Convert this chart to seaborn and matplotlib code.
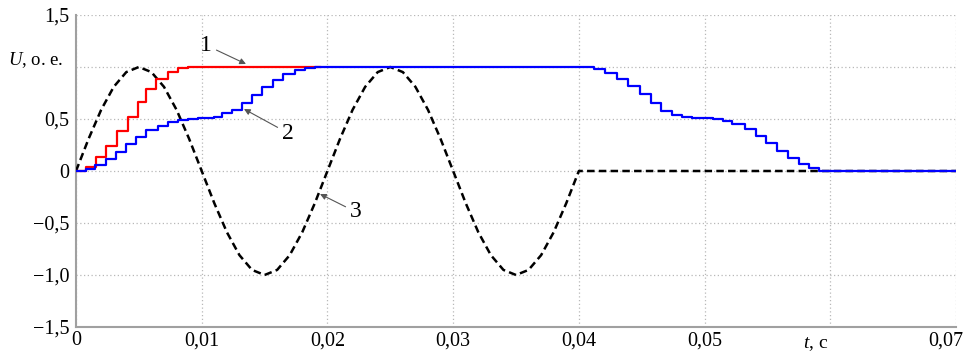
import numpy as np
import pandas as pd
import matplotlib
matplotlib.use("Agg")
import matplotlib.pyplot as plt
import matplotlib.transforms as mtransforms
import seaborn as sns

# ---------------- data ----------------
# curve 1 (red)
t_red = [0.0, 0.0008, 0.0016, 0.0024, 0.0033, 0.0041, 0.0049, 0.0056,
         0.0064, 0.0073, 0.0081, 0.0089, 0.0195]
u_red = [0.0, 0.035, 0.13, 0.24, 0.385, 0.52, 0.66, 0.785,
         0.88, 0.955, 0.99, 1.0, 1.0]

# curve 2 (blue)
t_blue = [0.0, 0.0008, 0.0015, 0.0024, 0.0032, 0.0040, 0.0048, 0.0056,
          0.0065, 0.0073, 0.0081, 0.0089, 0.0097, 0.0105, 0.0110,
          0.0116, 0.0124, 0.0132, 0.0140, 0.0148, 0.0157, 0.0165,
          0.0174, 0.0182, 0.0190,
          0.0406, 0.0412, 0.0421, 0.0430, 0.0439, 0.0449, 0.0457,
          0.0465, 0.0474, 0.0482, 0.0490, 0.0507, 0.0515, 0.0522,
          0.0532, 0.0541, 0.0549, 0.0558, 0.0566, 0.0575, 0.0583,
          0.0591, 0.0700]
u_blue = [0.0, 0.015, 0.06, 0.115, 0.18, 0.256, 0.33, 0.39,
          0.43, 0.468, 0.49, 0.50, 0.505, 0.51, 0.52,
          0.555, 0.59, 0.65, 0.73, 0.81, 0.875, 0.93,
          0.97, 0.993, 1.0,
          0.997, 0.98, 0.94, 0.885, 0.82, 0.737, 0.65,
          0.58, 0.54, 0.515, 0.505, 0.497, 0.48, 0.452,
          0.40, 0.34, 0.266, 0.195, 0.128, 0.07, 0.032,
          0.0, 0.0]

# curve 3 (black dashed)
t_black = [0.000, 0.001, 0.002, 0.003, 0.004, 0.005, 0.006, 0.007, 0.008,
           0.009, 0.010, 0.011, 0.012, 0.013, 0.014, 0.015, 0.016, 0.017,
           0.018, 0.019, 0.020, 0.021, 0.022, 0.023, 0.024, 0.025, 0.026,
           0.027, 0.028, 0.029, 0.030, 0.031, 0.032, 0.033, 0.034, 0.035,
           0.036, 0.037, 0.038, 0.039, 0.040, 0.070]
u_black = [0.0, 0.309, 0.588, 0.809, 0.951, 1.0, 0.951, 0.809, 0.588,
           0.309, 0.0, -0.309, -0.588, -0.809, -0.951, -1.0, -0.951, -0.809,
           -0.588, -0.309, 0.0, 0.309, 0.588, 0.809, 0.951, 1.0, 0.951,
           0.809, 0.588, 0.309, 0.0, -0.309, -0.588, -0.809, -0.951, -1.0,
           -0.951, -0.809, -0.588, -0.309, 0.0, 0.0]

x_ticks = [0.0, 0.01, 0.02, 0.03, 0.04, 0.05, 0.06, 0.07]
x_ticklabels = ["0", "0,01", "0,02", "0,03", "0,04", "0,05", "", "0,07"]
y_ticks = [-1.5, -1.0, -0.5, 0.0, 0.5, 1.0, 1.5]
y_ticklabels = ["\u22121,5", "\u22121,0", "\u22120,5", "0", "0,5", "", "1,5"]

# ---------------- style ----------------
sns.set_theme(style="white")
plt.rcParams["font.family"] = ["Liberation Serif", "DejaVu Serif"]
plt.rcParams["text.color"] = "black"
plt.rcParams["mathtext.fontset"] = "custom"
plt.rcParams["mathtext.rm"] = "Liberation Serif"
plt.rcParams["mathtext.it"] = "Liberation Serif:italic"

fig = plt.figure(figsize=(9.72, 3.53), dpi=100)
ax = fig.add_axes([76 / 972, 1 - 327 / 353, (956 - 76) / 972, (327 - 15) / 353])

df_black = pd.DataFrame({"t": t_black, "u": u_black})
df_red = pd.DataFrame({"t": t_red, "u": u_red})
df_blue = pd.DataFrame({"t": t_blue, "u": u_blue})

sns.lineplot(data=df_black, x="t", y="u", ax=ax, color="black", lw=1.8,
             linestyle=(0, (3.0, 1.7)), sort=False, estimator=None, zorder=3)
sns.lineplot(data=df_red, x="t", y="u", ax=ax, color="#ff0000", lw=1.6,
             drawstyle="steps-post", sort=False, estimator=None, zorder=4)
sns.lineplot(data=df_blue, x="t", y="u", ax=ax, color="#0000ff", lw=1.6,
             drawstyle="steps-post", sort=False, estimator=None, zorder=5)

ax.set_xlim(0, 0.07)
ax.set_ylim(-1.5, 1.5)
ax.set_xticks(x_ticks)
ax.set_xticklabels(x_ticklabels)
ax.set_yticks(y_ticks)
ax.set_yticklabels(y_ticklabels)
ax.set_xlabel("")
ax.set_ylabel("")

ax.grid(True, linestyle=(0, (1, 2)), color="#b8b8b8", lw=0.9)
for s in ["top", "right"]:
    ax.spines[s].set_visible(False)
for s in ["left", "bottom"]:
    ax.spines[s].set_color("#a0a0a0")
    ax.spines[s].set_linewidth(1.5)
ax.tick_params(axis="both", direction="in", length=5, width=1,
               color="#a0a0a0", labelsize=14.5, labelcolor="black", pad=3)
ax.tick_params(axis="y", pad=5)

# the last x label sits a little to the left of its tick, inside the figure
last = ax.get_xticklabels()[-1]
last.set_transform(last.get_transform() +
                   mtransforms.ScaledTranslation(-10 / 100, 0, fig.dpi_scale_trans))

# axis labels placed where the reference has them
fig.text(63 / 972, 1 - 60 / 353, "$U$, o. e.", ha="right", va="center",
         fontsize=13.5)
fig.text(816 / 972, 1 - 344 / 353, "$t$, c", ha="center", va="center",
         fontsize=14)

arrow = dict(arrowstyle="-|>", color="#555555", lw=0.8, mutation_scale=9,
             shrinkA=1, shrinkB=0)
ax.annotate("1", xy=(0.01352, 1.029), xytext=(0.01034, 1.21), fontsize=17,
            ha="center", va="center", arrowprops=arrow)
ax.annotate("2", xy=(0.01336, 0.596), xytext=(0.01686, 0.365), fontsize=17,
            ha="center", va="center", arrowprops=arrow)
ax.annotate("3", xy=(0.01941, -0.221), xytext=(0.02227, -0.394), fontsize=17,
            ha="center", va="center", arrowprops=arrow)

fig.savefig("out.png", dpi=100)
